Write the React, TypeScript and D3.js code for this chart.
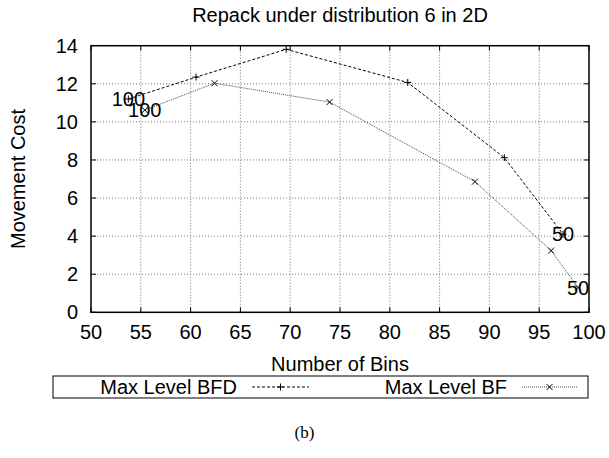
import React from "react";
import * as d3 from "d3";

// Series: number of bins vs. movement cost
const binsBFD = [53.75, 60.55, 69.6, 81.8, 91.5, 97.4];
const costBFD = [11.2, 12.35, 13.81, 12.07, 8.12, 4.1];
const binsBF = [55.4, 62.4, 73.95, 88.55, 96.2, 98.9];
const costBF = [10.62, 12.03, 11.04, 6.86, 3.24, 1.3];
// Point annotations (first and last point of each series)
const labelsBFD = ["100", "", "", "", "", "50"];
const labelsBF = ["100", "", "", "", "", "50"];

const xTicks = [50, 55, 60, 65, 70, 75, 80, 85, 90, 95, 100];
const yTicks = [0, 2, 4, 6, 8, 10, 12, 14];

const W = 609;
const H = 458;
const plot = { left: 91, right: 589, top: 45.7, bottom: 312.3 };
const FONT = "'Liberation Sans', Arial, Helvetica, sans-serif";
const FS = 20;

export default function App() {
  const x = d3.scaleLinear().domain([50, 100]).range([plot.left, plot.right]);
  const y = d3.scaleLinear().domain([0, 14]).range([plot.bottom, plot.top]);

  const bfd = binsBFD.map((b, i) => ({ x: b, y: costBFD[i], label: labelsBFD[i] }));
  const bf = binsBF.map((b, i) => ({ x: b, y: costBF[i], label: labelsBF[i] }));

  const line = d3
    .line<{ x: number; y: number }>()
    .x((d) => x(d.x))
    .y((d) => y(d.y));

  const plus = (cx: number, cy: number, s: number, key: string) => (
    <path key={key} d={`M${cx - s},${cy}H${cx + s}M${cx},${cy - s}V${cy + s}`} stroke="#000" strokeWidth={1} />
  );
  const cross = (cx: number, cy: number, s: number, key: string) => (
    <path
      key={key}
      d={`M${cx - s},${cy - s}L${cx + s},${cy + s}M${cx - s},${cy + s}L${cx + s},${cy - s}`}
      stroke="#000"
      strokeWidth={1}
    />
  );

  const legendY = 387;

  return (
    <svg width={W} height={H} style={{ position: "absolute", left: 0, top: 0, background: "#fff" }}>
      <rect x={0} y={0} width={W} height={H} fill="#fff" />
      {/* grid */}
      <g stroke="#777" strokeWidth={1} strokeDasharray="1,2">
        {xTicks.slice(1, -1).map((t) => (
          <line key={"gx" + t} x1={x(t)} x2={x(t)} y1={plot.top} y2={plot.bottom} />
        ))}
        {yTicks.slice(1, -1).map((t) => (
          <line key={"gy" + t} x1={plot.left} x2={plot.right} y1={y(t)} y2={y(t)} />
        ))}
      </g>
      {/* tick marks, mirrored */}
      <g stroke="#000" strokeWidth={1}>
        {xTicks.map((t) => (
          <g key={"tx" + t}>
            <line x1={x(t)} x2={x(t)} y1={plot.bottom} y2={plot.bottom - 5} />
            <line x1={x(t)} x2={x(t)} y1={plot.top} y2={plot.top + 5} />
          </g>
        ))}
        {yTicks.map((t) => (
          <g key={"ty" + t}>
            <line x1={plot.left} x2={plot.left + 5} y1={y(t)} y2={y(t)} />
            <line x1={plot.right} x2={plot.right - 5} y1={y(t)} y2={y(t)} />
          </g>
        ))}
      </g>
      {/* series */}
      <path d={line(bfd) ?? ""} fill="none" stroke="#000" strokeWidth={1} strokeDasharray="3,2" />
      <path d={line(bf) ?? ""} fill="none" stroke="#444" strokeWidth={1} strokeDasharray="1,1" />
      {bfd.map((d, i) => plus(x(d.x), y(d.y), 3.5, "p" + i))}
      {bf.map((d, i) => cross(x(d.x), y(d.y), 3, "c" + i))}
      <g fontFamily={FONT} fontSize={FS} fill="#000" textAnchor="middle">
        {bfd.map((d, i) =>
          d.label ? (
            <text key={"lb" + i} x={x(d.x)} y={y(d.y)} dy="0.35em">
              {d.label}
            </text>
          ) : null
        )}
        {bf.map((d, i) =>
          d.label ? (
            <text key={"lf" + i} x={x(d.x)} y={y(d.y)} dy="0.35em">
              {d.label}
            </text>
          ) : null
        )}
      </g>
      {/* border */}
      <rect
        x={plot.left}
        y={plot.top}
        width={plot.right - plot.left}
        height={plot.bottom - plot.top}
        fill="none"
        stroke="#000"
        strokeWidth={1.5}
      />
      {/* tick labels and titles */}
      <g fontFamily={FONT} fontSize={FS} fill="#000">
        {yTicks.map((t) => (
          <text key={"yl" + t} x={plot.left - 13} y={y(t)} dy="0.35em" textAnchor="end">
            {t}
          </text>
        ))}
        {xTicks.map((t) => (
          <text key={"xl" + t} x={x(t)} y={plot.bottom + 20} dy="0.35em" textAnchor="middle">
            {t}
          </text>
        ))}
        <text x={(plot.left + plot.right) / 2} y={15} dy="0.35em" textAnchor="middle">
          Repack under distribution 6 in 2D
        </text>
        <text x={(plot.left + plot.right) / 2} y={364} dy="0.35em" textAnchor="middle">
          Number of Bins
        </text>
        <text
          transform={`translate(18,${(plot.top + plot.bottom) / 2}) rotate(-90)`}
          dy="0.35em"
          textAnchor="middle"
        >
          Movement Cost
        </text>
      </g>
      {/* legend */}
      <rect x={53} y={376} width={535} height={22} fill="none" stroke="#000" strokeWidth={1} />
      <g fontFamily={FONT} fontSize={FS} fill="#000">
        <text x={237} y={legendY} dy="0.35em" textAnchor="end">
          Max Level BFD
        </text>
        <text x={507} y={legendY} dy="0.35em" textAnchor="end">
          Max Level BF
        </text>
      </g>
      <line x1={252} x2={309} y1={legendY} y2={legendY} stroke="#000" strokeDasharray="3,2" />
      {plus(280.5, legendY, 3.5, "lp")}
      <line x1={522} x2={577} y1={legendY} y2={legendY} stroke="#444" strokeDasharray="1,1" />
      {cross(549.5, legendY, 3, "lc")}
      <text
        x={W / 2}
        y={432}
        dy="0.35em"
        textAnchor="middle"
        fontFamily="'Liberation Serif', 'Times New Roman', serif"
        fontSize={17}
      >
        (b)
      </text>
    </svg>
  );
}
